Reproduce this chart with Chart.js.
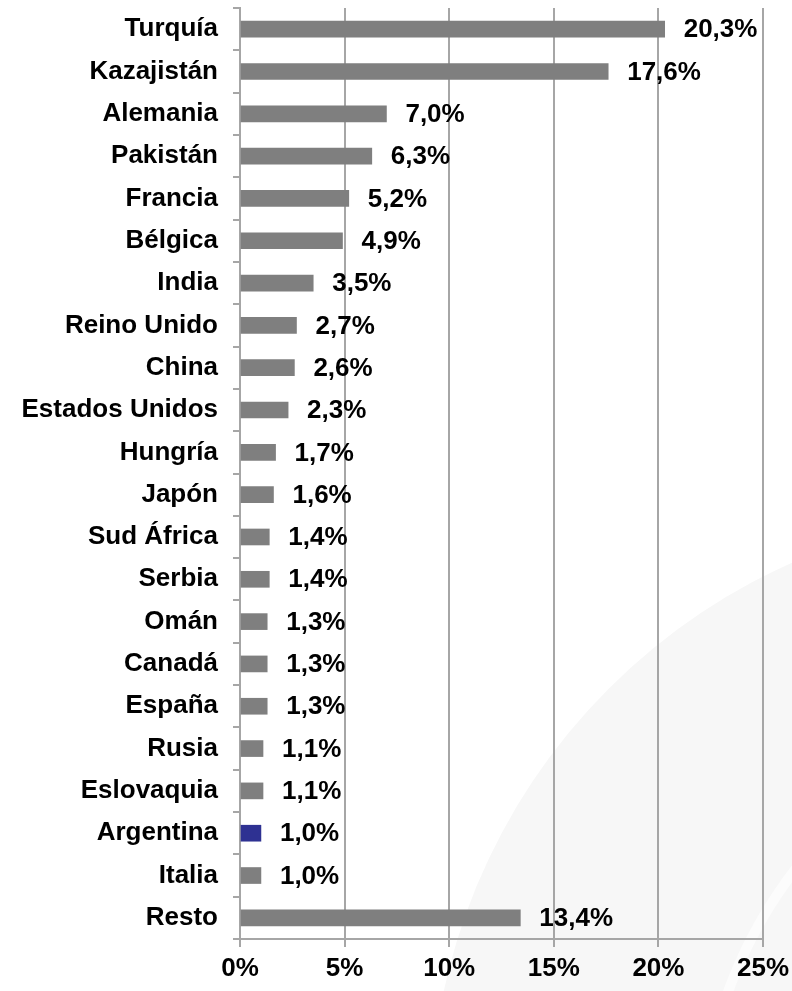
<!DOCTYPE html>
<html>
<head>
<meta charset="utf-8">
<script src="https://cdn.jsdelivr.net/npm/chart.js@4"></script>
<style>
  html, body { margin: 0; padding: 0; background: #ffffff; }
  #wrap { width: 792px; height: 991px; }
</style>
</head>
<body>
<div id="wrap"><canvas id="paisesChart" width="792" height="991"></canvas></div>
<script>
// Datos del gráfico
const paises = ['Turquía', 'Kazajistán', 'Alemania', 'Pakistán', 'Francia', 'Bélgica', 'India',
    'Reino Unido', 'China', 'Estados Unidos', 'Hungría', 'Japón', 'Sud África', 'Serbia', 'Omán',
    'Canadá', 'España', 'Rusia', 'Eslovaquia', 'Argentina', 'Italia', 'Resto'];
const participacion = [20.3, 17.6, 7.0, 6.3, 5.2, 4.9, 3.5, 2.7, 2.6, 2.3, 1.7, 1.6, 1.4, 1.4, 1.3,
    1.3, 1.3, 1.1, 1.1, 1.0, 1.0, 13.4];
const destacado = 'Argentina';
const ticksX = [0, 5, 10, 15, 20, 25];

const gris = '#7f7f7f';
const azul = '#2e3192';
const lineas = '#a6a6a6';
const fuente = { family: 'Liberation Sans, Arial, sans-serif', size: 26, weight: 'bold' };

const fmt = v => v.toFixed(1).replace('.', ',') + '%';

// Fondo decorativo (curvas claras abajo a la derecha)
const fondo = {
    id: 'fondo',
    beforeDraw(chart) {
        const ctx = chart.ctx;
        ctx.save();
        ctx.fillStyle = '#ffffff';
        ctx.fillRect(0, 0, chart.width, chart.height);
        ctx.beginPath();
        ctx.arc(1040, 1120, 610, 0, Math.PI * 2);
        ctx.fillStyle = '#f7f7f7';
        ctx.fill();
        ctx.beginPath();
        ctx.arc(1160, 1150, 460, 0, Math.PI * 2);
        ctx.strokeStyle = '#fcfcfc';
        ctx.lineWidth = 10;
        ctx.stroke();
        ctx.restore();
    }
};

// Etiquetas de valor a la derecha de cada barra
const etiquetas = {
    id: 'etiquetas',
    afterDatasetsDraw(chart) {
        const ctx = chart.ctx;
        const meta = chart.getDatasetMeta(0);
        ctx.save();
        ctx.font = `${fuente.weight} ${fuente.size}px ${fuente.family}`;
        ctx.fillStyle = '#000000';
        ctx.textAlign = 'left';
        ctx.textBaseline = 'middle';
        meta.data.forEach((bar, i) => {
            ctx.fillText(fmt(participacion[i]), bar.x + 19, bar.y + 1);
        });
        ctx.restore();
    }
};

new Chart(document.getElementById('paisesChart'), {
    type: 'bar',
    data: {
        labels: paises,
        datasets: [{
            data: participacion,
            backgroundColor: paises.map(p => p === destacado ? azul : gris),
            barThickness: 16
        }]
    },
    options: {
        indexAxis: 'y',
        responsive: false,
        animation: false,
        layout: { padding: { top: 8, right: 29, left: 0, bottom: 0 } },
        plugins: {
            legend: { display: false },
            tooltip: { enabled: false }
        },
        scales: {
            x: {
                min: 0,
                max: 25,
                afterBuildTicks: axis => { axis.ticks = ticksX.map(v => ({ value: v })); },
                afterFit: axis => {
                    axis.height = 52;
                    axis.paddingRight = 0;
                },
                ticks: {
                    color: '#000000',
                    font: fuente,
                    padding: 6,
                    callback: v => v + '%'
                },
                grid: { color: lineas, lineWidth: 2, tickLength: 8 },
                border: { color: lineas, width: 2 }
            },
            y: {
                afterFit: axis => {
                    axis.width = 240;
                    axis.paddingTop = 0;
                    axis.paddingBottom = 0;
                },
                ticks: {
                    color: '#000000',
                    font: fuente,
                    padding: 15,
                    autoSkip: false
                },
                grid: { drawOnChartArea: false, color: lineas, lineWidth: 2, tickLength: 7 },
                border: { color: lineas, width: 2 }
            }
        }
    },
    plugins: [fondo, etiquetas]
});
</script>
</body>
</html>
